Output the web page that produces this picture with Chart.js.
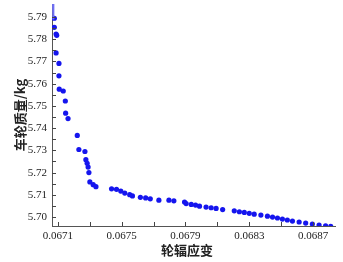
<!DOCTYPE html>
<html><head><meta charset="utf-8">
<script src="https://cdn.jsdelivr.net/npm/chart.js@4"></script>
<style>html,body{margin:0;padding:0;background:#fff}#wrap{width:343px;height:262px}</style>
</head><body><div id="wrap"><canvas id="c" width="343" height="262"></canvas></div>
<script>
const strain = [0.067077,0.067077,0.067088,0.067092,0.067088,0.067106,0.067106,0.067108,0.067133,0.067146,0.067148,0.067163,
0.067221,0.067231,0.067269,0.067275,0.067283,0.067289,0.067294,0.067300,0.067321,0.067338,
0.067436,0.067467,0.067494,0.067519,0.067550,0.067567,0.067617,0.067650,0.067679,0.067733,0.067796,0.067827,
0.067894,0.067904,0.067936,0.067963,0.067988,0.068029,0.068061,0.068092,0.068133,0.068206,0.068238,0.068269,
0.068300,0.068331,0.068373,0.068414,0.068446,0.068477,0.068508,0.068539,0.068571,0.068613,0.068654,0.068696,
0.068738,0.068779,0.068811];
const mass = [5.7894,5.7853,5.7823,5.7817,5.7738,5.7691,5.7635,5.7575,5.7567,5.7522,5.7467,5.7443,
5.7367,5.7304,5.7295,5.7258,5.7242,5.7225,5.7200,5.7158,5.7146,5.7137,
5.7127,5.7125,5.7117,5.7108,5.7101,5.7095,5.7089,5.7086,5.7082,5.7076,5.7076,5.7073,
5.7068,5.7061,5.7057,5.7054,5.7049,5.7045,5.7042,5.7039,5.7034,5.7028,5.7024,5.7021,
5.7017,5.7013,5.7009,5.7004,5.7000,5.6996,5.6991,5.6987,5.6982,5.6978,5.6973,5.6969,
5.6964,5.6961,5.6958];
const lineStrain = [0.067069,0.067071];
const lineMass = [5.7958,5.7888];
const endStrain = [0.068820];
const endMass = [5.6957];
const xTicks = [0.0671,0.0673,0.0675,0.0677,0.0679,0.0681,0.0683,0.0685,0.0687];
const xLabels = ['0.0671','0.0675','0.0679','0.0683','0.0687'];
const yTicks = [5.700,5.705,5.710,5.715,5.720,5.725,5.730,5.735,5.740,5.745,5.750,5.755,5.760,5.765,5.770,5.775,5.780,5.785,5.790];
const yLabels = ['5.70','5.71','5.72','5.73','5.74','5.75','5.76','5.77','5.78','5.79'];

const pts = strain.map((s,i)=>({x:s,y:mass[i]}));
const linePts = lineStrain.map((s,i)=>({x:s,y:lineMass[i]}));
const endPts = endStrain.map((s,i)=>({x:s,y:endMass[i]}));

const tickFont = {family:'"Liberation Serif", "DejaVu Serif", serif', size:11};
const titleFont = {family:'"Noto Sans CJK SC", sans-serif', size:13, weight:'bold'};

const inTicks = {
  id:'inTicks',
  afterDraw(chart){
    const ctx = chart.ctx, a = chart.chartArea;
    ctx.save();
    ctx.strokeStyle = '#444'; ctx.lineWidth = 1;
    const xs = chart.scales.x, ys = chart.scales.y;
    xs.ticks.forEach(t=>{
      const px = Math.round(xs.getPixelForValue(t.value))+0.5;
      ctx.beginPath(); ctx.moveTo(px,a.bottom); ctx.lineTo(px,a.bottom-4); ctx.stroke();
    });
    ys.ticks.forEach(t=>{
      const py = Math.round(ys.getPixelForValue(t.value))+0.5;
      ctx.beginPath(); ctx.moveTo(a.left,py); ctx.lineTo(a.left+4,py); ctx.stroke();
    });
    ctx.restore();
  }
};

new Chart(document.getElementById('c'), {
  type:'scatter',
  data:{datasets:[
    {data:linePts, showLine:true, borderColor:'#6f6ff5', borderWidth:2, pointRadius:0},
    {data:pts, backgroundColor:'#1515ee', borderColor:'#1515ee', pointRadius:2.6, pointBorderWidth:0},
    {data:endPts, backgroundColor:'#7fe07f', borderColor:'#7fe07f', pointRadius:1.5, pointBorderWidth:0}
  ]},
  options:{
    responsive:false, animation:false, events:[],
    layout:{padding:{left:0,top:2,right:8,bottom:0}},
    plugins:{legend:{display:false}, tooltip:{enabled:false}},
    scales:{
      x:{type:'linear', min:0.0670624, max:0.068838,
        afterBuildTicks(s){ s.ticks = xTicks.map(v=>({value:v})); },
        afterFit(s){ s.height = 36; s.paddingLeft = 0; s.paddingRight = 0; },
        ticks:{autoSkip:false, maxRotation:0, padding:4, font:tickFont, color:'#222',
          callback(v){ const l = v.toFixed(4); return xLabels.includes(l) ? l : ''; }},
        grid:{display:false, drawTicks:false},
        border:{display:true, color:'#555', width:1},
        title:{display:true, text:'轮辐应变\u3000', font:titleFont, color:'#222', padding:{top:0,bottom:4.2}}
      },
      y:{type:'linear', min:5.696, max:5.7958,
        afterBuildTicks(s){ s.ticks = yTicks.map(v=>({value:v})); },
        afterFit(s){ s.width = 52; s.paddingTop = 0; s.paddingBottom = 0; },
        ticks:{autoSkip:false, padding:5, font:tickFont, color:'#222',
          callback(v){ const l = v.toFixed(2); return (Math.abs(v*100-Math.round(v*100))<1e-6 && yLabels.includes(l)) ? l : ''; }},
        grid:{display:false, drawTicks:false},
        border:{display:true, color:'#555', width:1},
        title:{display:true, text:'车轮质量/kg', font:titleFont, color:'#222', padding:{top:12.2,bottom:0}}
      }
    }
  },
  plugins:[inTicks]
});
</script></body></html>
